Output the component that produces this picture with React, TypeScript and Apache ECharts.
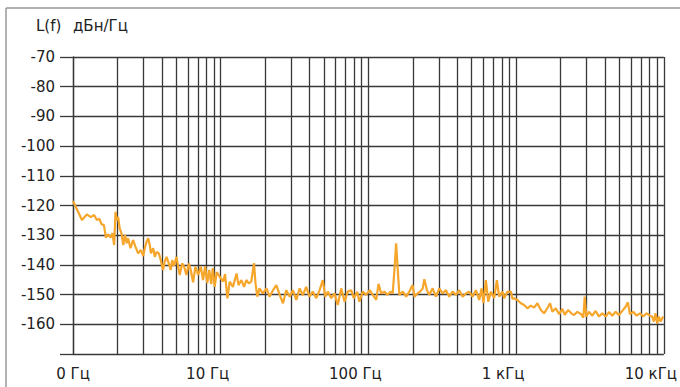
import React, { useEffect, useRef } from "react";
import * as echarts from "echarts";

// Trace: frequency (Hz) and level (dBc/Hz)
const freqA = [1, 1.15, 1.24, 1.32, 1.39, 1.45, 1.51, 1.56, 1.62, 1.67, 1.73, 1.8, 1.85, 1.9, 1.94, 1.98, 2.02, 2.07, 2.13, 2.19, 2.25, 2.31, 2.36, 2.45, 2.55, 2.65, 2.76, 2.88, 2.99, 3.06, 3.15, 3.23, 3.31, 3.37, 3.49, 3.58, 3.68, 3.81, 3.93, 4.07, 4.18, 4.3, 4.45, 4.59, 4.69, 4.83, 5.02, 5.15, 5.28, 5.48, 5.65, 5.86, 6.08, 6.27, 6.5, 6.74, 7.03, 7.33];
const levelA = [-118.5, -124.9, -123.0, -123.9, -123.2, -124.9, -124.5, -126.3, -126.6, -130.8, -129.7, -130.8, -129.3, -133.3, -122.1, -124.9, -123.8, -127.7, -129.4, -133.3, -129.9, -132.7, -131.0, -134.4, -131.6, -133.9, -136.1, -135.0, -137.0, -134.4, -132.2, -131.0, -133.3, -136.1, -134.4, -137.3, -135.6, -136.1, -138.4, -141.7, -138.9, -137.3, -139.5, -141.7, -138.4, -140.3, -137.3, -140.6, -143.4, -139.5, -140.6, -143.4, -139.5, -141.7, -145.9, -140.6, -143.4, -140.6];

const freqB = [7.59, 7.85, 8.11, 8.36, 8.62, 8.83, 9.1, 9.4, 9.84, 10.4, 10.7, 11.1, 11.5, 12.1, 12.8, 13.2, 13.8, 14.4, 14.9, 15.5, 16.1, 16.8, 17.2, 17.7, 18.3, 19.3, 20.4, 21.4, 22.6, 23.8, 25.1, 26.4, 27.8, 29.3, 30.8, 32.5, 34.2, 36.0, 37.9, 39.9, 42.0, 44.4, 46.7, 49.1, 51.0, 53.1, 56.0, 58.9, 62.0, 65.4];
const levelB = [-145.1, -140.4, -146.1, -141.7, -146.5, -141.1, -147.4, -142.4, -144.0, -145.6, -143.1, -151.3, -145.6, -147.4, -142.9, -146.8, -145.1, -147.4, -145.1, -146.2, -145.6, -139.4, -146.2, -150.7, -147.9, -149.6, -147.9, -150.7, -148.5, -146.8, -150.2, -152.9, -148.5, -150.7, -148.5, -151.8, -147.9, -150.2, -147.4, -150.7, -149.0, -151.2, -148.5, -145.1, -150.7, -149.0, -151.2, -149.6, -153.5, -147.9];

const freqC = [68.9, 72.4, 76.4, 79.6, 83.9, 86.9, 91.5, 96.4, 102, 107, 113, 117, 122, 128, 135, 141, 146, 150, 154, 158, 162, 171, 180, 189, 199, 205, 215, 224, 233, 239, 249, 258, 272, 286, 302, 318, 335, 352, 371, 391, 412, 434, 457, 481, 507, 534, 562, 583, 601, 624, 647, 675, 710, 741, 767, 807];
const levelC = [-152.4, -149.0, -148.5, -151.2, -149.0, -152.4, -149.0, -150.1, -148.5, -150.1, -151.8, -146.4, -149.6, -149.0, -150.1, -149.0, -149.6, -141.7, -132.7, -141.7, -150.1, -149.0, -150.7, -149.0, -146.8, -150.7, -149.6, -149.0, -147.9, -144.8, -148.5, -150.1, -147.9, -150.7, -147.9, -149.6, -148.5, -150.7, -149.0, -150.1, -148.5, -150.7, -149.6, -149.0, -150.7, -148.5, -151.8, -147.9, -152.9, -145.1, -152.4, -149.0, -151.2, -145.1, -150.7, -149.0];

const freqD = [830, 869, 920, 946, 968, 1020, 1076, 1132, 1192, 1257, 1324, 1393, 1469, 1545, 1626, 1698, 1758, 1854, 1954, 2056, 2133, 2244, 2364, 2466, 2596, 2761, 2851, 2911, 2985, 3112, 3278, 3453, 3637, 3831, 4036, 4250, 4477, 4716, 4967, 5232, 5511, 5709, 5894, 6208, 6539, 6887, 7255, 7642, 8036, 8333, 8551, 8784, 9015, 9253, 9503, 9890];
const levelD = [-151.2, -149.1, -149.0, -151.5, -151.2, -151.8, -152.9, -153.5, -154.6, -153.7, -154.4, -152.9, -155.2, -156.3, -154.6, -152.9, -155.8, -154.6, -156.6, -154.8, -156.8, -155.2, -156.3, -156.9, -155.8, -156.6, -157.8, -150.7, -157.4, -155.8, -157.1, -155.5, -157.4, -156.3, -157.4, -155.9, -157.1, -155.8, -156.9, -155.5, -154.1, -152.6, -156.6, -155.8, -157.1, -156.3, -157.4, -156.3, -157.1, -157.4, -159.1, -156.3, -159.7, -157.4, -159.1, -157.4];

// Axis definitions
const xTickValues = [1, 10, 100, 1000, 10000];
const xTickLabels = ["0 Гц", "10 Гц", "100 Гц", "1 кГц", "10 кГц"];
const decades = [1, 10, 100, 1000];
const minorMultipliers = [2, 3, 4, 5, 6, 7, 8, 9];
const yMin = -170;
const yMax = -70;
const yStep = 10;
const yTitle = "L(f)";
const yUnit = "дБн/Гц";

const FONT = "'DejaVu Sans', sans-serif";
const FS = 15;
const GRID_COLOR = "#383838";

export default function App() {
  const ref = useRef<HTMLDivElement>(null);

  useEffect(() => {
    if (!ref.current) return;
    const chart = echarts.init(ref.current, null, { renderer: "svg" });

    const freqs = [...freqA, ...freqB, ...freqC, ...freqD];
    const levels = [...levelA, ...levelB, ...levelC, ...levelD];
    const data = freqs.map((f, i) => [f, levels[i]]);

    const minorLines: { xAxis: number }[] = [];
    decades.forEach((d) => minorMultipliers.forEach((m) => minorLines.push({ xAxis: d * m })));

    chart.setOption({
      animation: false,
      backgroundColor: "#ffffff",
      grid: { left: 73, right: 15, top: 57, bottom: 33, containLabel: false },
      xAxis: {
        type: "log",
        logBase: 10,
        min: 1,
        max: 10000,
        axisLine: { show: false },
        axisTick: { show: false },
        splitLine: { show: true, lineStyle: { color: GRID_COLOR, width: 1.3 } },
        axisLabel: {
          margin: 12,
          color: "#222",
          fontFamily: FONT,
          fontSize: FS,
          showMinLabel: true,
          showMaxLabel: true,
          formatter: (v: number) => {
            const i = xTickValues.indexOf(Math.round(v));
            if (i < 0) return "";
            return i === 0 ? `{a|${xTickLabels[i]}}` : `{b|${xTickLabels[i]}}`;
          },
          rich: {
            a: { fontFamily: FONT, fontSize: FS, color: "#222" },
            b: { fontFamily: FONT, fontSize: FS, color: "#222", padding: [0, 26, 0, 0] },
          },
        },
      },
      yAxis: {
        type: "value",
        min: yMin,
        max: yMax,
        interval: yStep,
        axisLine: { show: true, lineStyle: { color: GRID_COLOR, width: 1.3 } },
        axisTick: { show: true, length: 13, lineStyle: { color: GRID_COLOR, width: 1.3 } },
        splitLine: { show: true, lineStyle: { color: GRID_COLOR, width: 1.3 } },
        axisLabel: {
          margin: 18,
          color: "#222",
          fontFamily: FONT,
          fontSize: FS,
          formatter: (v: number) => (v === yMin ? "" : String(v)),
        },
      },
      graphic: [
        { type: "line", shape: { x1: 6, y1: 8, x2: 680, y2: 8 }, style: { stroke: "#999", lineWidth: 1.5 } },
        { type: "line", shape: { x1: 6, y1: 8, x2: 6, y2: 387 }, style: { stroke: "#999", lineWidth: 1.5 } },
        { type: "text", left: 36, top: 18, style: { text: yTitle, fontFamily: FONT, fontSize: FS, fill: "#222" } },
        { type: "text", left: 73, top: 18, style: { text: yUnit, fontFamily: FONT, fontSize: FS, fill: "#222" } },
      ],
      series: [
        {
          type: "line",
          z: 1,
          data: [[1, yMin]],
          showSymbol: false,
          symbol: "none",
          lineStyle: { opacity: 0 },
          silent: true,
          markLine: {
            silent: true,
            symbol: ["none", "none"],
            label: { show: false },
            lineStyle: { color: GRID_COLOR, width: 1.3, type: "solid" },
            data: minorLines,
          },
        },
        {
          type: "line",
          z: 5,
          data,
          showSymbol: false,
          symbol: "none",
          lineStyle: { color: "#F5A62B", width: 2.2 },
        },
      ],
    });

    return () => chart.dispose();
  }, []);

  return (
    <div
      ref={ref}
      style={{ position: "fixed", left: 0, top: 0, width: 680, height: 387, background: "#fff" }}
    />
  );
}
